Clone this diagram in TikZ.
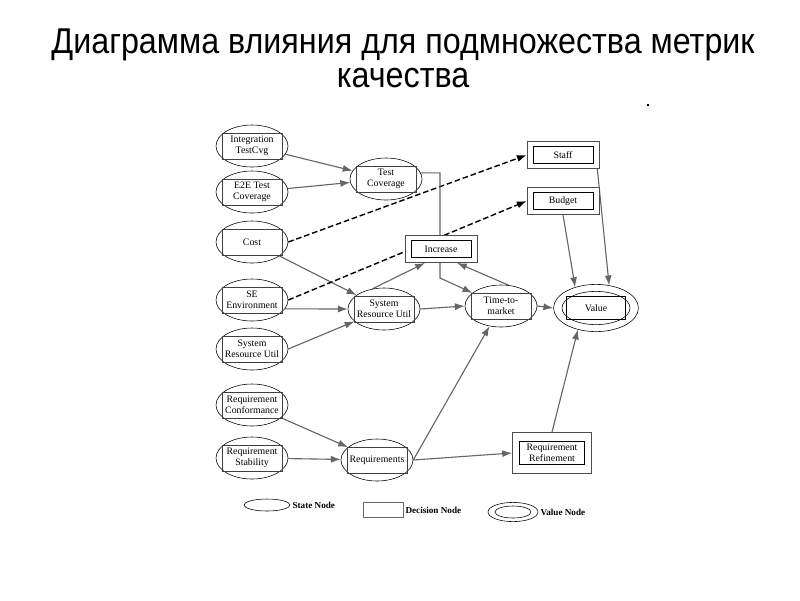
\documentclass[tikz,border=0pt]{standalone}
\usepackage{fontspec}
\setmainfont{Liberation Serif}
\newfontfamily\titlefont[FakeStretch=0.9]{Liberation Sans}
\usetikzlibrary{shapes.geometric}
\usetikzlibrary{backgrounds}
\usetikzlibrary{arrows.meta}
\usetikzlibrary{positioning}

\begin{document}
\begin{tikzpicture}[x=0.025cm,y=-0.025cm]
    \tikzstyle{every node}=[font=\fontsize{7}{7.5}\selectfont,align=center,inner sep=0pt]
    \tikzstyle{state}=[draw=black,thin,fill=white,ellipse,minimum width=1.8cm,minimum height=1.05cm]
    \tikzstyle{statein}=[draw=black!75,thin,minimum width=1.5cm,minimum height=0.64cm]
    \tikzstyle{dec}=[draw=black!70,thin,fill=white,minimum width=1.8cm,minimum height=0.68cm]
    \tikzstyle{decin}=[draw=black,thin,minimum width=1.5cm,minimum height=0.42cm]
    \tikzstyle{conn}=[draw=black!60,line width=0.8pt,-{Latex[length=7pt,width=5pt]}]
    \tikzstyle{dconn}=[draw=black,line width=1pt,dash pattern=on 4pt off 2pt,-{Latex[length=7pt,width=5pt]}]
    \tikzstyle{legtext}=[font=\fontsize{6.5}{7}\selectfont\bfseries]

    \useasboundingbox (0,0) rectangle (800,600);

    \node[font=\titlefont\fontsize{25.5}{28}\selectfont] (title1) at (403,45) {Диаграмма влияния для подмножества метрик};
    \node[font=\titlefont\fontsize{25.5}{28}\selectfont] (title2) at (403,78) {качества};
    \fill (647,104) rectangle (649,106);

    \newcommand{\statenode}[3]{%
      \node[state] (#1) at (#2) {};
      \node[statein] (#1-in) at (#2) {#3};}

    % left column
    \statenode{itc}{252,146}{Integration\\TestCvg}
    \statenode{e2e}{252,192}{E2E Test\\Coverage}
    \statenode{cost}{252,242}{Cost}
    \statenode{se}{252,300}{SE\\Environment}
    \statenode{sru}{252,349}{System\\Resource Util}
    \statenode{rc}{252,405}{Requirement\\Conformance}
    \statenode{rs}{252,458}{Requirement\\Stability}

    % middle
    \statenode{tc}{386,179}{Test\\Coverage}
    \statenode{msru}{384,309}{System\\Resource Util}
    \statenode{ttm}{501,306}{Time-to-\\market}
    \statenode{req}{377,460}{Requirements}

    \node[dec] (staff) at (563,155) {};
    \node[decin] (staff-in) at (staff) {Staff};
    \node[dec] (budget) at (563,201) {};
    \node[decin] (budget-in) at (budget) {Budget};
    \node[dec] (inc) at (441,249) {};
    \node[decin] (inc-in) at (inc) {Increase};
    \node[dec,minimum width=1.98cm,minimum height=1.03cm] (rref) at (552,453) {};
    \node[decin,minimum width=1.62cm,minimum height=0.58cm] (rref-in) at (rref) {Requirement\\Refinement};

    \node[state,minimum width=2.12cm,minimum height=1.18cm] (value) at (596,308) {};
    \node[draw=black,thin,ellipse,minimum width=1.7cm,minimum height=0.83cm] (value-mid) at (value) {};
    \node[draw=black,thin,minimum width=1.48cm,minimum height=0.58cm] (value-in) at (value) {Value};

    \coordinate (tcbend) at (440,278);

    \begin{pgfonlayer}{background}
    \draw[conn] (itc) -- (tc);
    \draw[conn] (e2e) -- (tc);
    \draw[conn] (cost) -- (msru);
    \draw[conn] (se.-15) -- (msru.west);
    \draw[conn] (sru.east) -- (msru);
    \draw[conn] (rc) -- (req);
    \draw[conn] (rs) -- (req);
    \draw[dconn] (cost.east) -- (staff.west);
    \draw[dconn] (se.east) -- (budget.west);
    \draw[conn] (tc.10) -| (tcbend) -- (ttm);
    \draw[conn] (msru.120) -- ([xshift=-0.4cm]inc.south);
    \draw[conn] (ttm.70) -- ([xshift=0.4cm]inc.south);
    \draw[conn] (msru.east) -- (ttm.west);
    \draw[conn] (ttm.east) -- (value.west);
    \draw[conn] (budget.south) -- (value.135);
    \draw[conn] ([xshift=-0.05cm]staff.south east) -- (value.60);
    \draw[conn] (req.east) -- (ttm);
    \draw[conn] (req.east) -- (rref.west);
    \draw[conn] (rref.north) -- (value.230);
    \end{pgfonlayer}

    % legend
    \node[draw=black,thin,ellipse,minimum width=1.15cm,minimum height=0.3cm] (lstate) at (267,505) {};
    \node[legtext,right=0.05cm of lstate] (lstate-t) {State Node};
    \node[draw=black!60,minimum width=1cm,minimum height=0.38cm] (ldec) at (383,510) {};
    \node[legtext,right=0.05cm of ldec] (ldec-t) {Decision Node};
    \node[draw=black,ellipse,minimum width=1.25cm,minimum height=0.48cm] (lval) at (513,512) {};
    \node[draw=black,ellipse,minimum width=0.9cm,minimum height=0.3cm] (lval-in) at (lval) {};
    \node[legtext,right=0.05cm of lval] (lval-t) {Value Node};

\end{tikzpicture}
\end{document}
